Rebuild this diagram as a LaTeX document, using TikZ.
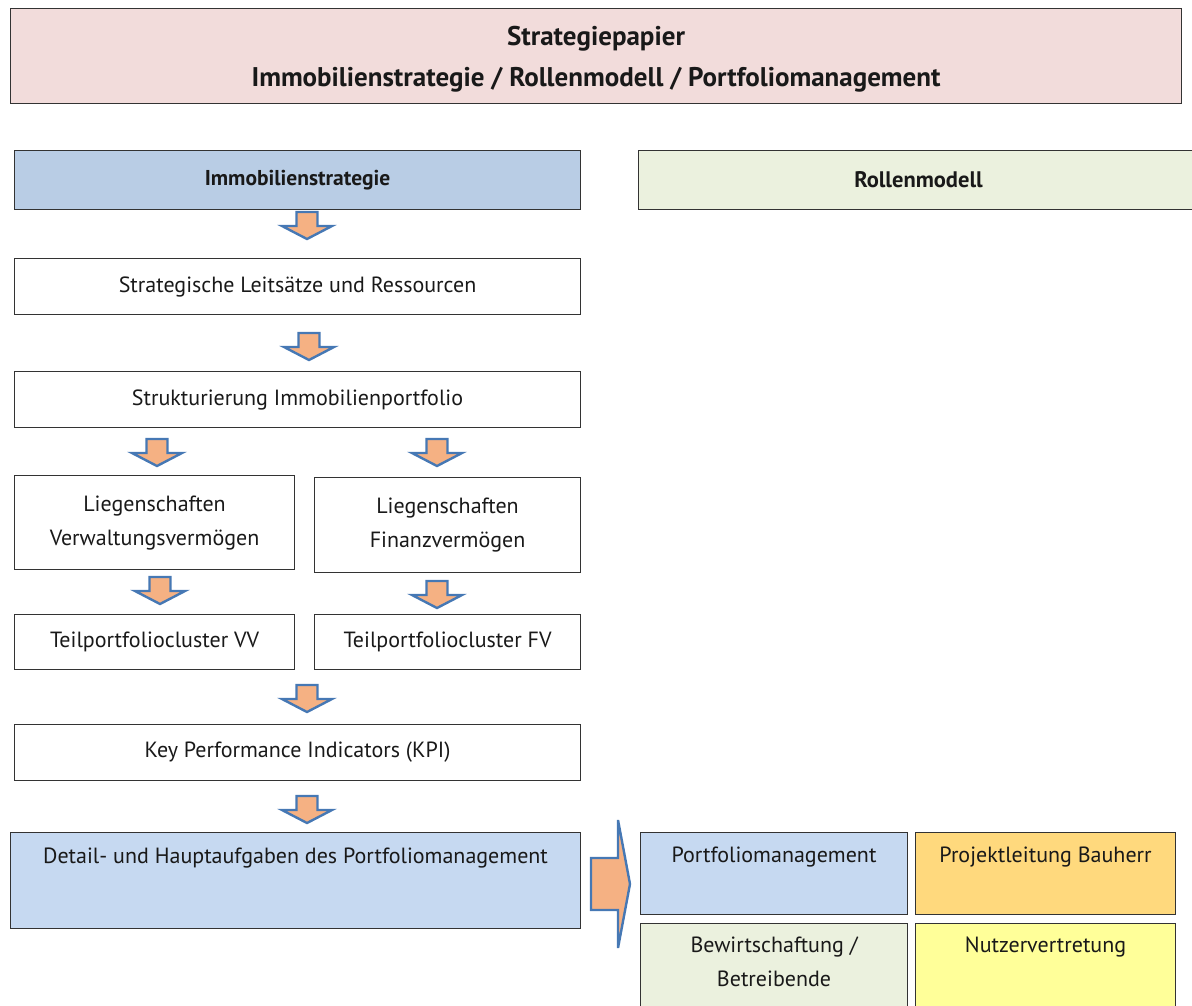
\documentclass[tikz,border=0pt]{standalone}
\usepackage{fontspec}
\setmainfont{PT Sans}
\definecolor{titlec}{RGB}{242,220,219}
\definecolor{headblue}{RGB}{185,205,229}
\definecolor{lightblue}{RGB}{198,217,241}
\definecolor{lightgreen}{RGB}{235,241,222}
\definecolor{orangec}{RGB}{255,217,125}
\definecolor{yellowc}{RGB}{255,255,153}
\definecolor{arrfill}{RGB}{245,177,131}
\definecolor{arrdraw}{RGB}{70,120,180}
\begin{document}
\begin{tikzpicture}[x=1pt,y=-1pt,
  box/.style={draw=black!80, line width=1.1pt, rectangle, inner sep=0pt, anchor=north west,
    font=\fontsize{22}{34}\selectfont, align=center, text=black!90},
  lbl/.style={font=\fontsize{22}{34}\selectfont, align=center, text=black!90, anchor=north, inner sep=0pt},
  arrowst/.style={fill=arrfill, draw=arrdraw, line width=2.4pt, line join=miter},
  downarr/.pic={\draw[arrowst] (-10.5,0) -- (10.5,0) -- (10.5,14) -- (25,14) -- (0,27) -- (-25,14) -- (-10.5,14) -- cycle;}]
\useasboundingbox (0,0) rectangle (1192,1005);
% title
\node[box, fill=titlec, minimum width=1171, minimum height=95] (title) at (10,8) {};
\node[font=\bfseries\fontsize{27}{41}\selectfont, align=center, text=black!90, inner sep=0pt]
  (titlel) at ([yshift=-3pt]title.center) {Strategiepapier\\Immobilienstrategie / Rollenmodell / Portfoliomanagement};
% headers
\node[box, fill=headblue, minimum width=566, minimum height=59, font=\bfseries\fontsize{21.5}{34}\selectfont] (imm) at (14,150) {Immobilienstrategie};
\node[box, fill=lightgreen, minimum width=560, minimum height=59, font=\bfseries\fontsize{22.5}{34}\selectfont] (rol) at (638,150) {Rollenmodell};
% left column
\node[box, minimum width=566, minimum height=56] (leit) at (14,258) {Strategische Leitsätze und Ressourcen};
\node[box, minimum width=566, minimum height=56] (struk) at (14,371) {Strukturierung Immobilienportfolio};
\node[box, minimum width=280, minimum height=94] (lvv) at (14,475) {Liegenschaften\\Verwaltungsvermögen};
\node[box, minimum width=266, minimum height=95] (lfv) at (314,477) {Liegenschaften\\Finanzvermögen};
\node[box, minimum width=280, minimum height=55] (tvv) at (14,614) {Teilportfoliocluster VV};
\node[box, minimum width=266, minimum height=55] (tfv) at (314,614) {Teilportfoliocluster FV};
\node[box, minimum width=566, minimum height=56] (kpi) at (14,724) {Key Performance Indicators (KPI)};
\node[box, fill=lightblue, minimum width=570, minimum height=96] (det) at (10,832) {};
\node[lbl] (detl) at ([yshift=-16pt]det.north) {Detail- und Hauptaufgaben des Portfoliomanagement};
% right boxes
\node[box, fill=lightblue, minimum width=267, minimum height=82] (pm) at (640,832) {};
\node[lbl] (pml) at ([yshift=-15pt]pm.north) {Portfoliomanagement};
\node[box, fill=orangec, minimum width=260, minimum height=82] (pl) at (915,832) {};
\node[lbl] (pll) at ([yshift=-15pt]pl.north) {Projektleitung Bauherr};
\node[box, fill=lightgreen, minimum width=267, minimum height=90] (bw) at (640,923) {};
\node[lbl] (bwl) at ([yshift=-14pt]bw.north) {Bewirtschaftung /\\Betreibende};
\node[box, fill=yellowc, minimum width=260, minimum height=90] (nv) at (915,923) {};
\node[lbl] (nvl) at ([yshift=-14pt]nv.north) {Nutzervertretung};
% down arrows
\pic at (307,212) {downarr};
\pic at (309,333) {downarr};
\pic at (157,439) {downarr};
\pic at (437,439) {downarr};
\pic at (160,577) {downarr};
\pic at (437,581) {downarr};
\pic at (307,685) {downarr};
\pic at (307,796) {downarr};
% big right arrow
\draw[arrowst] (591,858) -- (618,858) -- (618,820) -- (630,884) -- (618,948) -- (618,910) -- (591,910) -- cycle;
\end{tikzpicture}
\end{document}
